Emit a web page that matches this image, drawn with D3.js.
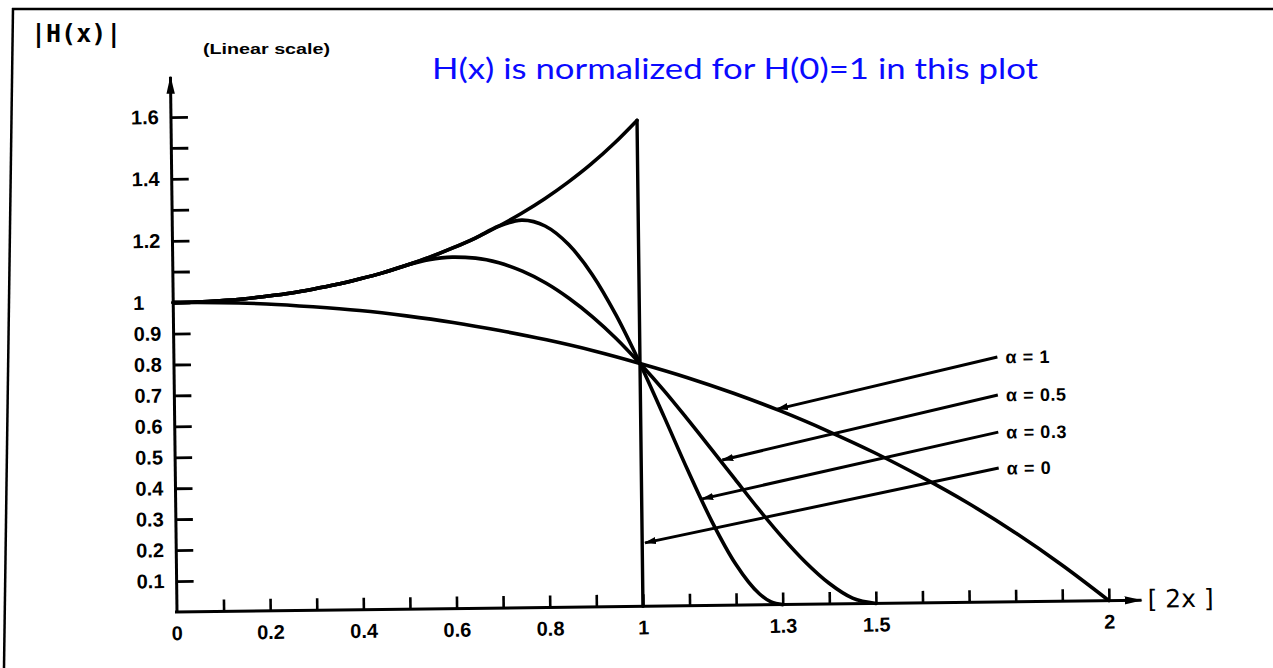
<!DOCTYPE html>
<html>
<head>
<meta charset="utf-8">
<script src="https://cdn.jsdelivr.net/npm/d3@7"></script>
<style>
  body { margin: 0; background: #fff; }
  svg { display: block; }
</style>
</head>
<body>
<div id="chart"></div>
<script>
// normalised frequency [2x] and |H(x)|
var uAlpha0 = [0,0.05,0.1,0.15,0.2,0.25,0.3,0.35,0.4,0.45,0.5,0.55,0.6,0.65,0.7,0.75,0.8,0.85,0.9,0.95,1];
var hAlpha0 = [1.000,1.001,1.004,1.009,1.017,1.026,1.038,1.052,1.069,1.088,1.111,1.136,1.165,1.197,1.234,1.275,1.321,1.373,1.431,1.497,1.571];

var uAlpha03 = [0,0.05,0.1,0.15,0.2,0.25,0.3,0.35,0.4,0.45,0.5,0.55,0.6,0.65,0.7,0.75,0.8,0.85,0.9,0.95,1,1.05,1.1,1.15,1.2,1.25,1.275,1.3];
var hAlpha03 = [1.000,1.001,1.004,1.009,1.017,1.026,1.038,1.052,1.069,1.088,1.111,1.136,1.165,1.197,1.234,1.253,1.233,1.172,1.074,0.942,0.785,0.613,0.437,0.272,0.133,0.036,0.009,0];

var uAlpha05 = [0,0.05,0.1,0.15,0.2,0.25,0.3,0.35,0.4,0.45,0.5,0.55,0.6,0.65,0.7,0.75,0.8,0.85,0.9,0.95,1,1.05,1.1,1.15,1.2,1.25,1.3,1.35,1.4,1.45,1.5];
var hAlpha05 = [1.000,1.001,1.004,1.009,1.017,1.026,1.038,1.052,1.069,1.088,1.111,1.129,1.136,1.132,1.116,1.088,1.049,0.998,0.937,0.866,0.785,0.698,0.604,0.507,0.409,0.311,0.219,0.136,0.067,0.018,0];

var uAlpha1 = [0,0.1,0.2,0.3,0.4,0.5,0.6,0.7,0.8,0.9,1,1.1,1.2,1.3,1.4,1.5,1.6,1.7,1.8,1.9,2];
var hAlpha1 = [1.000,0.998,0.992,0.981,0.967,0.948,0.925,0.897,0.865,0.828,0.785,0.738,0.685,0.626,0.560,0.488,0.408,0.321,0.224,0.117,0];

// x = 1 cut-off of the alpha = 0 filter
var cutoffU = 1;
var cutoffTop = 1.571;

// arrows from the alpha labels to their curves
var arrowLabels = ["\u03b1 = 1", "\u03b1 = 0.5", "\u03b1 = 0.3", "\u03b1 = 0"];
var arrowFromU = [1.767, 1.767, 1.767, 1.767];
var arrowFromV = [0.792, 0.669, 0.549, 0.433];
var arrowToU = [1.293, 1.174, 1.130, 1.006];
var arrowToV = [0.632, 0.470, 0.345, 0.205];

// ticks
var xTicks = [0.1,0.2,0.3,0.4,0.5,0.6,0.7,0.8,0.9,1,1.1,1.2,1.3,1.4,1.5,1.6,1.7,1.8,1.9,2];
var xTickLabels = ["0.2","0.4","0.6","0.8","1","1.3","1.5","2"];
var yTicks = [0.1,0.2,0.3,0.4,0.5,0.6,0.7,0.8,0.9,1,1.1,1.2,1.3,1.4,1.5,1.6];
var yTickLabels = ["0.1","0.2","0.3","0.4","0.5","0.6","0.7","0.8","0.9","1","1.2","1.4","1.6"];

var W = 1273, H = 668;

var svg = d3.select("#chart")
  .append("svg")
    .attr("width", W)
    .attr("height", H);

// arrow heads
var defs = svg.append("defs");
defs.append("marker")
    .attr("id", "head")
    .attr("markerUnits", "userSpaceOnUse")
    .attr("viewBox", "0 -5 12 10")
    .attr("refX", 11).attr("refY", 0)
    .attr("markerWidth", 12).attr("markerHeight", 10)
    .attr("orient", "auto")
  .append("path")
    .attr("d", "M0,-3.6L12,0L0,3.6Z")
    .attr("fill", "black");
defs.append("marker")
    .attr("id", "axisHead")
    .attr("markerUnits", "userSpaceOnUse")
    .attr("viewBox", "0 -5 18 10")
    .attr("refX", 17).attr("refY", 0)
    .attr("markerWidth", 18).attr("markerHeight", 10)
    .attr("orient", "auto")
  .append("path")
    .attr("d", "M0,-4.2L18,0L0,4.2Z")
    .attr("fill", "black");

// frame of the slide
svg.append("line")
    .attr("x1", 12).attr("y1", 9).attr("x2", W).attr("y2", 9)
    .attr("stroke", "black").attr("stroke-width", 2.5);
svg.append("line")
    .attr("x1", 13).attr("y1", 8).attr("x2", 4).attr("y2", H)
    .attr("stroke", "black").attr("stroke-width", 2.5);

// the scanned plot is slightly rotated, origin of the axes at (177,612)
var g = svg.append("g")
    .attr("transform", "translate(177,612) rotate(-0.7)");

var x = d3.scaleLinear().domain([0, 2]).range([0, 932]);
var y = d3.scaleLinear().domain([0, 1.6]).range([0, -495]);

var fmt = d3.format("~g");
var labelFont = "Liberation Sans, Arial, sans-serif";

// x axis: ticks point up, labels only on some
var xAxis = g.append("g")
    .call(d3.axisBottom(x)
      .tickValues(xTicks)
      .tickSizeInner(-12)
      .tickSizeOuter(0)
      .tickPadding(14)
      .tickFormat(function(d) { return xTickLabels.indexOf(fmt(d)) >= 0 ? fmt(d) : ""; }));
xAxis.select(".domain").remove();
xAxis.selectAll("line").attr("stroke", "black").attr("stroke-width", 2.6);
xAxis.selectAll("text")
    .attr("font-family", labelFont)
    .attr("font-weight", "bold")
    .attr("font-size", "20px")
    .attr("fill", "black");
// "0" at the origin
g.append("text")
    .attr("x", x(0)).attr("y", 14).attr("dy", "0.71em")
    .attr("text-anchor", "middle")
    .attr("font-family", labelFont)
    .attr("font-weight", "bold")
    .attr("font-size", "20px")
    .attr("fill", "black")
    .text("0");

// y axis: ticks point right, labels left aligned
var yAxis = g.append("g")
    .call(d3.axisLeft(y)
      .tickValues(yTicks)
      .tickSizeInner(-17)
      .tickSizeOuter(0)
      .tickFormat(function(d) { return yTickLabels.indexOf(fmt(d)) >= 0 ? fmt(d) : ""; }));
yAxis.select(".domain").remove();
yAxis.selectAll("line").attr("stroke", "black").attr("stroke-width", 2.8);
yAxis.selectAll("text")
    .attr("x", -40)
    .attr("text-anchor", "start")
    .attr("font-family", labelFont)
    .attr("font-weight", "bold")
    .attr("font-size", "20px")
    .attr("fill", "black");

// axis lines with arrows
g.append("line")
    .attr("x1", -2).attr("y1", 0).attr("x2", x(2.07)).attr("y2", 0)
    .attr("stroke", "black").attr("stroke-width", 3)
    .attr("marker-end", "url(#axisHead)");
g.append("line")
    .attr("x1", 0).attr("y1", 1).attr("x2", 0).attr("y2", y(1.73))
    .attr("stroke", "black").attr("stroke-width", 3)
    .attr("marker-end", "url(#axisHead)");

// curves
var series = [
  {u: uAlpha1, h: hAlpha1},
  {u: uAlpha05, h: hAlpha05},
  {u: uAlpha03, h: hAlpha03},
  {u: uAlpha0, h: hAlpha0}
];
var line = d3.line()
    .x(function(d) { return x(d[0]); })
    .y(function(d) { return y(d[1]); })
    .curve(d3.curveMonotoneX);

g.selectAll(".curve")
  .data(series)
  .enter()
  .append("path")
    .attr("class", "curve")
    .attr("d", function(s) { return line(d3.zip(s.u, s.h)); })
    .attr("fill", "none")
    .attr("stroke", "black")
    .attr("stroke-width", 3.6)
    .attr("stroke-linejoin", "round")
    .attr("stroke-linecap", "round");

// vertical drop of the alpha = 0 response
g.append("line")
    .attr("x1", x(cutoffU)).attr("y1", y(0))
    .attr("x2", x(cutoffU)).attr("y2", y(cutoffTop))
    .attr("stroke", "black").attr("stroke-width", 3.4)
    .attr("stroke-linecap", "round");

// labelled arrows
arrowLabels.forEach(function(lbl, i) {
  g.append("line")
      .attr("x1", x(arrowFromU[i])).attr("y1", y(arrowFromV[i]))
      .attr("x2", x(arrowToU[i])).attr("y2", y(arrowToV[i]))
      .attr("stroke", "black").attr("stroke-width", 3)
      .attr("marker-end", "url(#head)");
  g.append("text")
      .attr("x", x(arrowFromU[i]) + 8)
      .attr("y", y(arrowFromV[i]))
      .attr("dy", "0.36em")
      .attr("font-family", labelFont)
      .attr("font-weight", "bold")
      .attr("font-size", "18px")
      .attr("letter-spacing", "0.6px")
      .text(lbl);
});

// axis captions
g.append("text")
    .attr("x", x(2.07) + 6)
    .attr("y", 0)
    .attr("dy", "0.3em")
    .attr("font-family", "DejaVu Sans, sans-serif")
    .attr("font-size", "25px")
    .attr("xml:space", "preserve")
    .text("[ 2x ]");

svg.append("text")
    .attr("x", 31).attr("y", 42)
    .attr("font-family", "DejaVu Sans Mono, monospace")
    .attr("font-size", "25px")
    .attr("font-weight", "bold")
    .text("|H(x)|");

svg.append("text")
    .attr("x", 203).attr("y", 54)
    .attr("font-family", labelFont)
    .attr("font-size", "14px")
    .attr("font-weight", "bold")
    .attr("textLength", 127)
    .attr("lengthAdjust", "spacingAndGlyphs")
    .text("(Linear scale)");

// note added on top of the scan
svg.append("text")
    .attr("x", 432).attr("y", 79)
    .attr("font-family", "Lato, Open Sans, sans-serif")
    .attr("font-size", "29px")
    .attr("fill", "#0a0aff")
    .attr("textLength", 606)
    .attr("lengthAdjust", "spacingAndGlyphs")
    .text("H(x) is normalized for H(0)=1 in this plot");
</script>
</body>
</html>
